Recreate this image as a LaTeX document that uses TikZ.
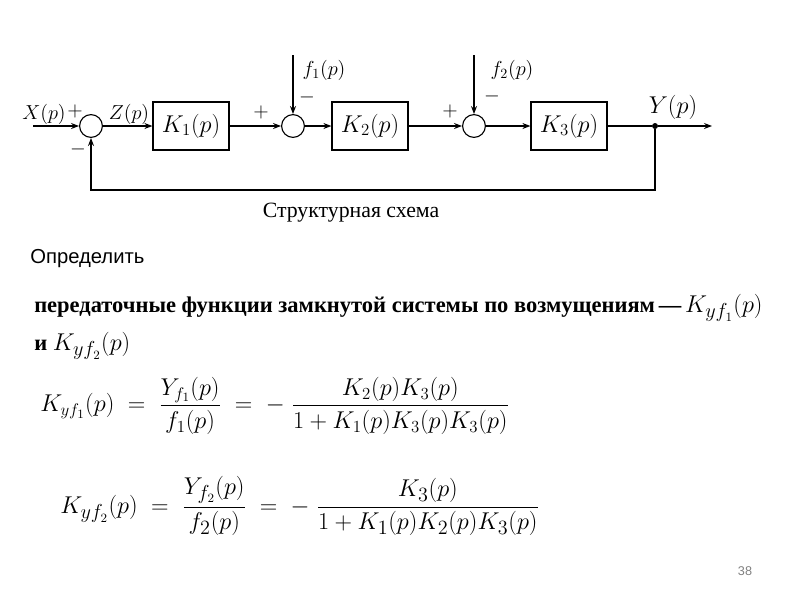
\documentclass[tikz,border=0pt]{standalone}
\usepackage{amsmath}
\usepackage{fontspec}
\setmainfont{Liberation Serif}
\newfontfamily\slidefont{Liberation Sans}
\usetikzlibrary{arrows.meta,positioning}

\begin{document}
\begin{tikzpicture}[x=0.025cm, y=-0.025cm,
  blk/.style={rectangle, draw, thick, minimum width=1.9cm, minimum height=1.2cm, font=\LARGE},
  sumc/.style={circle, draw, thick, minimum size=0.57cm, inner sep=0pt},
  dot/.style={circle, fill, inner sep=1.5pt},
  arr/.style={-{Stealth[length=2mm]}, thick},
  lbl/.style={font=\Large, inner sep=0pt},
  sgn/.style={font=\Large, inner sep=0pt}
]
\useasboundingbox (0,0) rectangle (800,600);
% structural scheme
\node[sumc] (s1) at (91,126) {};
\node[blk] (k1) at (191,126) {$K_1(p)$};
\node[sumc] (s2) at (293,126) {};
\node[blk] (k2) at (370,126) {$K_2(p)$};
\node[sumc] (s3) at (474,126) {};
\node[blk] (k3) at (569,126) {$K_3(p)$};
\node[dot] (y) at (655,126) {};
\coordinate (in) at (33,126);
\coordinate (out) at (712,126);
\coordinate (f1) at (293,55);
\coordinate (f2) at (474,55);
\coordinate (fbr) at (655,190);
\coordinate (fbl) at (91,190);
\draw[arr] (in) -- (s1);
\draw[arr] (s1) -- (k1);
\draw[arr] (k1) -- (s2);
\draw[arr] (s2) -- (k2);
\draw[arr] (k2) -- (s3);
\draw[arr] (s3) -- (k3);
\draw[thick] (k3) -- (y);
\draw[arr] (y) -- (out);
\draw[arr] (f1) -- (s2);
\draw[arr] (f2) -- (s3);
\draw[arr] (y) -- (fbr) -- (fbl) -- (s1);
% signs and signals
\node[lbl] (xl) at (44,114) {$X(p)$};
\node[sgn] (p1) at (75,111) {$+$};
\node[sgn] (m1) at (78,149) {$-$};
\node[lbl] (zl) at (129,114) {$Z(p)$};
\node[sgn] (p2) at (261,112) {$+$};
\node[lbl] (f1l) at (324,70) {$f_1(p)$};
\node[sgn] (m2) at (307,97) {$-$};
\node[sgn] (p3) at (450,111) {$+$};
\node[lbl] (f2l) at (512,70) {$f_2(p)$};
\node[sgn] (m3) at (492,96) {$-$};
\node[font=\LARGE, inner sep=0pt] (yl) at (673,107) {$Y(p)$};
\node[font=\fontsize{15.5}{18}\selectfont] (cap) at (351,213) {Структурная схема};
% task
\node[anchor=west, font=\slidefont\Large, inner sep=0pt] (task) at (30,259) {Определить};
\node[anchor=west, font=\bfseries\fontsize{16}{19}\selectfont, inner sep=0pt] (line1) at (34,308) {передаточные функции замкнутой системы по возмущениям\,---\,{\fontsize{19}{22}\selectfont$K_{yf_1}(p)$}};
\node[anchor=west, font=\bfseries\fontsize{16}{19}\selectfont, inner sep=0pt] (line2) at (34,346) {и {\fontsize{19}{22}\selectfont$K_{yf_2}(p)$}};
\node[anchor=west, font=\fontsize{18.5}{22}\selectfont, inner sep=0pt] (eq1) at (40,406) {$\displaystyle K_{yf_1}(p)\;=\;\frac{Y_{f_1}(p)}{f_1(p)}\;=\;-\;\frac{K_2(p)K_3(p)}{1+K_1(p)K_3(p)K_3(p)}$};
\node[anchor=west, font=\fontsize{19}{23}\selectfont, inner sep=0pt] (eq2) at (60,506) {$\displaystyle K_{yf_2}(p)\;=\;\frac{Y_{f_2}(p)}{f_2(p)}\;=\;-\;\frac{K_3(p)}{1+K_1(p)K_2(p)K_3(p)}$};
\node[font=\slidefont\small, text=gray] (page) at (745,571) {38};
\end{tikzpicture}
\end{document}
